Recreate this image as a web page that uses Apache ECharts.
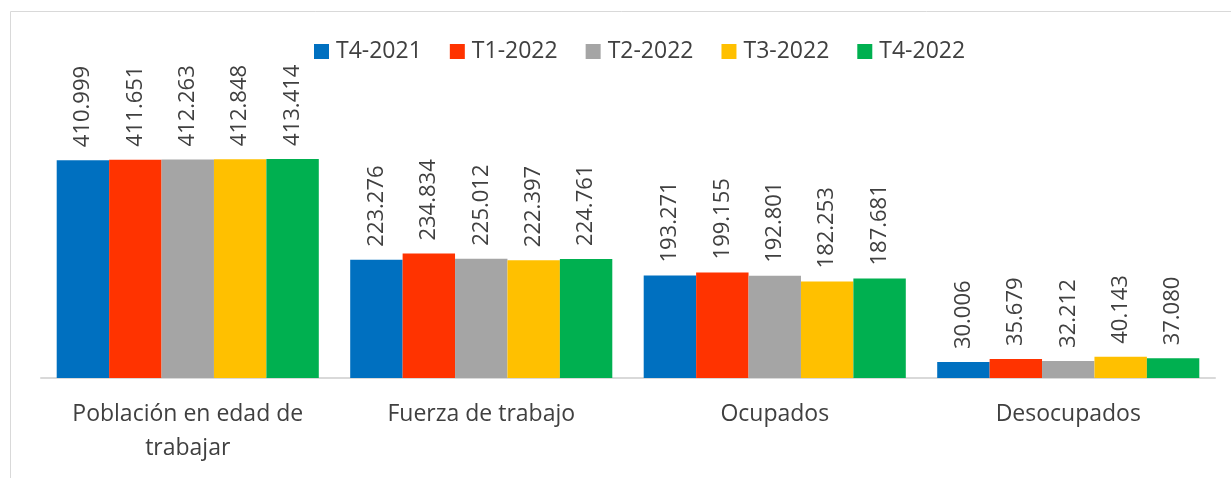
<!DOCTYPE html>
<html>
<head>
<meta charset="utf-8">
<script src="https://cdn.jsdelivr.net/npm/echarts@6/dist/echarts.min.js"></script>
<style>
  html, body { margin: 0; padding: 0; background: #fff; }
  #chart { width: 1231px; height: 478px; }
</style>
</head>
<body>
<div id="chart"></div>
<script>
// categorias y valores (miles de personas)
var categories = ['Población en edad de\ntrabajar', 'Fuerza de trabajo', 'Ocupados', 'Desocupados'];
var seriesNames = ['T4-2021', 'T1-2022', 'T2-2022', 'T3-2022', 'T4-2022'];
var t4_2021 = [410.999, 223.276, 193.271, 30.006];
var t1_2022 = [411.651, 234.834, 199.155, 35.679];
var t2_2022 = [412.263, 225.012, 192.801, 32.212];
var t3_2022 = [412.848, 222.397, 182.253, 40.143];
var t4_2022 = [413.414, 224.761, 187.681, 37.080];
var values = [t4_2021, t1_2022, t2_2022, t3_2022, t4_2022];
var colors = ['#0070C0', '#FF3300', '#A5A5A5', '#FFC000', '#00B050'];

var myChart = echarts.init(document.getElementById('chart'));
var font = '"Open Sans", "Noto Sans", sans-serif';

var series = seriesNames.map(function (name, i) {
    return {
        name: name,
        type: 'bar',
        data: values[i],
        barGap: '0%',
        barCategoryGap: '10.7%',
        itemStyle: { color: colors[i] },
        label: {
            show: true,
            position: 'top',
            rotate: 90,
            align: 'left',
            verticalAlign: 'middle',
            distance: 13,
            color: '#404040',
            fontFamily: font,
            fontSize: 22,
            formatter: function (p) { return p.value.toFixed(3); }
        }
    };
});

var option = {
    animation: false,
    color: colors,
    graphic: [{
        type: 'rect',
        shape: { x: 10.5, y: 11.5, width: 1240, height: 500 },
        style: { fill: 'none', stroke: '#d9d9d9', lineWidth: 1 },
        silent: true
    }],
    legend: {
        top: 35,
        left: 309,
        itemWidth: 15,
        itemHeight: 15,
        itemGap: 28,
        icon: 'rect',
        textStyle: { color: '#404040', fontFamily: font, fontSize: 23, padding: [0, 0, 0, 2] },
        data: seriesNames
    },
    grid: {
        left: 41,
        right: 16,
        top: 113,
        bottom: 100
    },
    xAxis: {
        type: 'category',
        data: categories,
        axisLine: { lineStyle: { color: '#d9d9d9', width: 2 } },
        axisTick: { show: false },
        axisLabel: {
            color: '#404040',
            fontFamily: font,
            fontSize: 23,
            lineHeight: 34,
            margin: 19,
            interval: 0
        }
    },
    yAxis: {
        type: 'value',
        min: 0,
        max: 500,
        show: false
    },
    series: series
};

myChart.setOption(option);
window.addEventListener('resize', function () {
    myChart.resize();
});
</script>
</body>
</html>
